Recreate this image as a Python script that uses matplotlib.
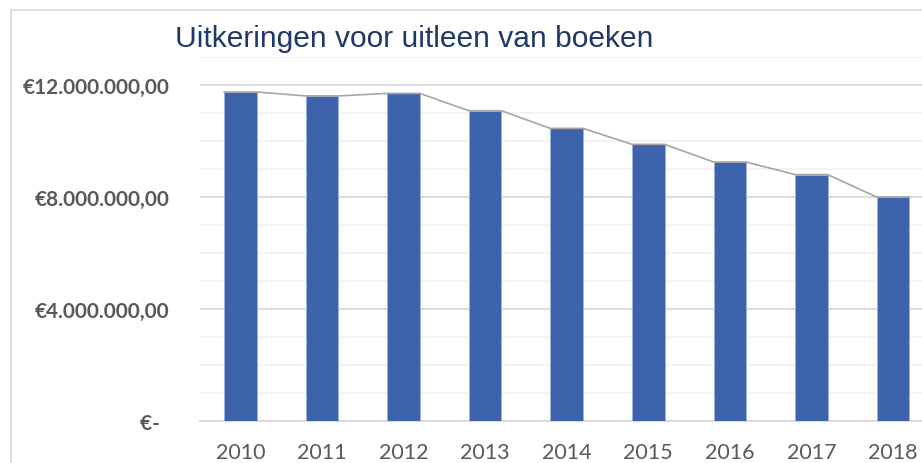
import matplotlib
matplotlib.use("Agg")
import matplotlib.pyplot as plt
from matplotlib.lines import Line2D
import numpy as np

years = ["2010", "2011", "2012", "2013", "2014", "2015", "2016", "2017", "2018"]
values = [11750000, 11610000, 11700000, 11080000, 10450000, 9880000, 9250000, 8800000, 8000000]
ytick_vals = [0, 4000000, 8000000, 12000000]
ytick_labels = ["€-  ", "€4.000.000,00", "€8.000.000,00", "€12.000.000,00"]
title = "Uitkeringen voor uitleen van boeken"

W, H = 922, 464
fig = plt.figure(figsize=(W / 100, H / 100), dpi=100)
fig.patch.set_facecolor("white")

left_px, right_px = 199.7, 199.7 + 9 * 81.56
bot_px, top_px = 422, 58
ax = fig.add_axes([left_px / W, 1 - bot_px / H, (right_px - left_px) / W, (bot_px - top_px) / H])

x = np.arange(len(years))
bw = 0.40
ax.bar(x, values, width=bw, color="#3C63AC", edgecolor="#9DB3DB", linewidth=0.6, zorder=3)

# connector line across bar tops
lx, ly = [], []
for xi, v in zip(x, values):
    lx += [xi - bw / 2, xi + bw / 2]
    ly += [v, v]
ax.plot(lx, ly, color="#A5A5A5", linewidth=1.2, zorder=4, solid_joinstyle="miter")

ax.set_xlim(-0.5, len(years) - 0.5)
ax.set_ylim(0, 13000000)

ax.set_yticks(ytick_vals)
ax.set_yticklabels(ytick_labels)
ax.set_yticks(np.arange(0, 13000001, 1000000), minor=True)
ax.grid(axis="y", which="minor", color="#F2F2F2", linewidth=1.3, zorder=0)
ax.grid(axis="y", which="major", color="#D9D9D9", linewidth=1.3, zorder=1)
ax.set_axisbelow(True)

ax.set_xticks(x)
ax.set_xticklabels(years)

for s in ["top", "right", "left"]:
    ax.spines[s].set_visible(False)
ax.spines["bottom"].set_color("#D9D9D9")
ax.spines["bottom"].set_linewidth(1.3)

ax.tick_params(axis="both", which="both", length=0)
ax.tick_params(axis="y", pad=21.5)
ax.tick_params(axis="x", pad=15)
for lab in ax.get_yticklabels():
    lab.set_fontfamily("Lato")
    lab.set_fontweight("bold")
    lab.set_fontsize(15)
    lab.set_color("#595959")
for lab in ax.get_xticklabels():
    lab.set_fontfamily("Lato")
    lab.set_fontsize(15.5)
    lab.set_color("#595959")

fig.text(175 / W, 1 - 47 / H, title, family="Liberation Sans", fontsize=21.6,
         color="#1F3864", ha="left", va="baseline")

# chart frame lines (cropped chart border)
fig.add_artist(Line2D([10.5 / W, 10.5 / W], [0, 1 - 10.5 / H], transform=fig.transFigure,
                      color="#D9D9D9", linewidth=1.2))
fig.add_artist(Line2D([10.5 / W, 1], [1 - 10.5 / H, 1 - 10.5 / H], transform=fig.transFigure,
                      color="#D9D9D9", linewidth=1.2))

fig.savefig("out.png", dpi=100)
